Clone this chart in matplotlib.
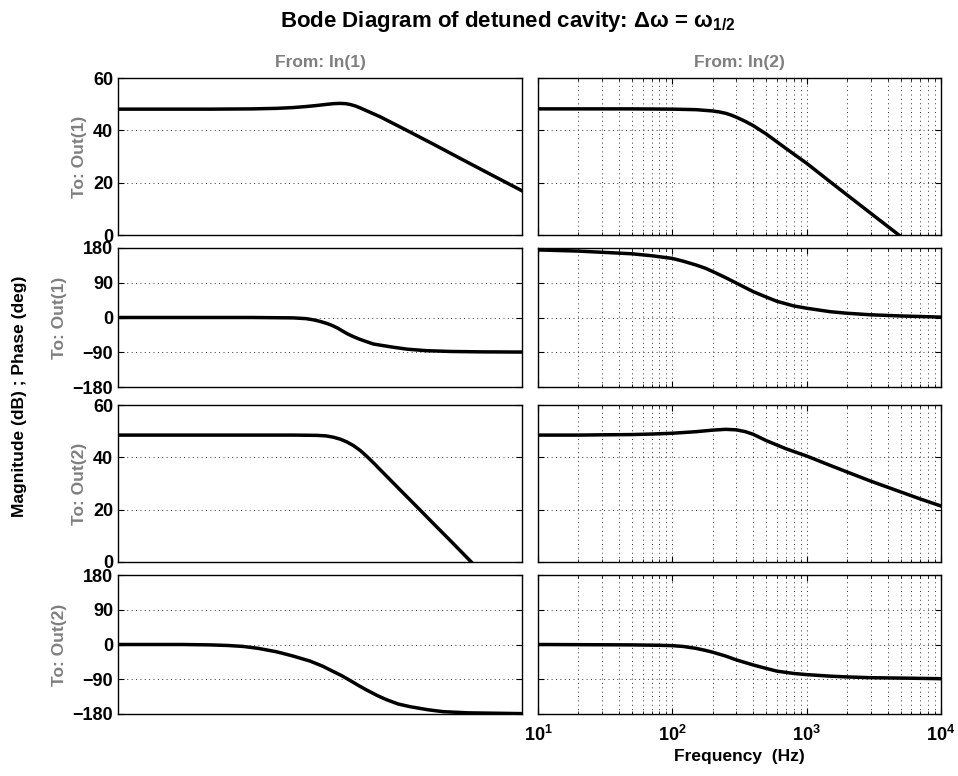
import numpy as np
import matplotlib
matplotlib.use('Agg')
import matplotlib.pyplot as plt
from matplotlib.ticker import LogLocator, NullFormatter

plt.rcParams['font.family'] = ['Liberation Sans', 'DejaVu Sans']
plt.rcParams['font.weight'] = 'bold'
plt.rcParams['mathtext.fontset'] = 'custom'
plt.rcParams['mathtext.rm'] = 'Liberation Sans:bold'
plt.rcParams['mathtext.it'] = 'Liberation Sans:bold'
plt.rcParams['mathtext.bf'] = 'Liberation Sans:bold'
plt.rcParams['axes.unicode_minus'] = True

# ---- data (frequency in Hz) ----
# column 1: From In(1)  (frequency axis not labelled in the reference)
f_mag11 = [10, 50, 100, 151, 200, 250, 300, 350, 400, 445, 490, 528, 580, 627, 700, 883, 1393, 2198, 3467, 5780, 10000]
mag11 = [48.1, 48.1, 48.2, 48.4, 48.7, 49.1, 49.5, 49.9, 50.2, 50.3, 50.2, 49.9, 49.3, 48.6, 47.5, 45.2, 40.0, 34.7, 29.3, 23.3, 16.9]

f_ph11 = [10, 100, 200, 250, 282, 300, 330, 360, 397, 430, 470, 510, 560, 620, 680, 787, 900, 1107, 1400, 1959, 3000, 5000, 10000]
ph11 = [0, 0, -1, -3, -6, -8, -12, -16, -22, -28, -36, -43, -49.6, -56, -61, -68.6, -72, -77, -82, -86, -88, -89, -89.5]

f_mag21 = [10, 100, 200, 298, 350, 397, 450, 500, 560, 630, 703, 800, 900, 1242, 1600, 2198, 3000, 4110, 6000]
mag21 = [48.5, 48.5, 48.5, 48.4, 48.2, 47.7, 46.9, 45.9, 44.5, 42.6, 40.4, 37.6, 34.9, 27.6, 21.9, 14.7, 7.7, 0.5, -8.0]

f_ph21 = [10, 30, 48, 65, 85, 110, 151, 200, 267, 330, 397, 460, 528, 610, 703, 840, 988, 1200, 1473, 2000, 2606, 4000, 10000]
ph21 = [0, 0, -1, -2.5, -5, -10, -19, -30, -43, -56, -70, -81, -93, -106, -118, -132, -143, -154, -161, -169, -174, -177, -179]

# column 2: From In(2)
f_mag12 = [10, 20, 50, 100, 150, 200, 225, 250, 275, 300, 350, 400, 500, 700, 1000, 1500, 2000, 3000, 5000, 7000, 10000]
mag12 = [48.2, 48.2, 48.2, 48.1, 47.9, 47.4, 47.0, 46.5, 45.8, 45.0, 43.4, 41.8, 38.6, 33.1, 27.4, 20.3, 15.3, 8.3, -0.5, -6.3, -12.5]

f_ph12 = [10, 20, 50, 70, 100, 120, 150, 175, 200, 250, 300, 400, 500, 600, 800, 1000, 1500, 2000, 3000, 5000, 10000]
ph12 = [175, 172, 165, 160, 153, 146, 136, 128, 119, 103, 89, 67, 53, 42, 30, 24, 15, 11, 7, 4, 1]

f_mag22 = [10, 20, 30, 50, 70, 100, 150, 200, 250, 300, 350, 400, 500, 700, 1000, 1500, 2000, 3000, 5000, 7000, 10000]
mag22 = [48.5, 48.5, 48.6, 48.7, 48.9, 49.2, 49.8, 50.4, 50.7, 50.5, 49.8, 48.8, 46.4, 43.3, 40.5, 36.9, 34.4, 30.9, 26.8, 24.1, 21.4]

f_ph22 = [10, 50, 80, 100, 120, 150, 175, 200, 250, 300, 400, 500, 600, 800, 1000, 1500, 2000, 3000, 5000, 10000]
ph22 = [0, -1, -2, -3, -5, -10, -15, -20, -30, -40, -53, -62, -69, -75, -78, -82, -84, -86, -87, -88.5]

mag_ticks = [0, 20, 40, 60]
phase_ticks = [-180, -90, 0, 90, 180]
freq_ticks = [10, 100, 1000, 10000]
freq_labels = [r'$10^{1}$', r'$10^{2}$', r'$10^{3}$', r'$10^{4}$']
row_labels = ['To: Out(1)', 'To: Out(1)', 'To: Out(2)', 'To: Out(2)']
col_labels = ['From: In(1)', 'From: In(2)']

W, H = 958, 776
fig = plt.figure(figsize=(W / 100, H / 100), dpi=100)

def px_axes(x0, y0, x1, y1):
    return fig.add_axes([x0 / W, 1 - y1 / H, (x1 - x0) / W, (y1 - y0) / H])

cols = [(118, 522), (538, 941)]
rows = [(78, 235), (248, 387), (405, 562), (575, 714)]

curves = [
    [(f_mag11, mag11), (f_mag12, mag12)],
    [(f_ph11, ph11), (f_ph12, ph12)],
    [(f_mag21, mag21), (f_mag22, mag22)],
    [(f_ph21, ph21), (f_ph22, ph22)],
]

gray = '#7f7f7f'
grid_kw = dict(linestyle=(0, (1, 3.5)), color='#333333', lw=0.7)
for r, (y0, y1) in enumerate(rows):
    is_mag = r % 2 == 0
    for c, (x0, x1) in enumerate(cols):
        ax = px_axes(x0, y0, x1, y1)
        fx, vals = curves[r][c]
        ax.semilogx(fx, vals, color='black', lw=2.5, solid_joinstyle='round')
        ax.set_xlim(10, 10000)
        if is_mag:
            ax.set_ylim(0, 60)
            ax.set_yticks(mag_ticks)
        else:
            ax.set_ylim(-180, 180)
            ax.set_yticks(phase_ticks)
        ax.tick_params(direction='in', which='both', top=True, right=True,
                       labelsize=13, length=4)
        ax.tick_params(which='minor', length=2)
        for s in ax.spines.values():
            s.set_linewidth(1.0)
        ax.yaxis.grid(True, **grid_kw)
        if c == 0:
            for lab in ax.get_yticklabels():
                lab.set_fontweight('bold')
            ax.set_ylabel(row_labels[r], color=gray, fontsize=12.5,
                          fontweight='bold', labelpad=4)
            ax.set_xticks([])
            ax.set_xticks([], minor=True)
        else:
            ax.set_yticklabels([])
            ax.set_xticks(freq_ticks)
            ax.xaxis.set_minor_locator(LogLocator(base=10, subs=np.arange(2, 10)))
            ax.xaxis.set_minor_formatter(NullFormatter())
            ax.xaxis.grid(True, which='both', **grid_kw)
            if r == 3:
                ax.set_xticklabels(freq_labels, fontsize=13)
                ax.tick_params(axis='x', pad=8)
                ax.set_xlabel('Frequency  (Hz)', fontsize=12.5, fontweight='bold', labelpad=3)
            else:
                ax.set_xticklabels([])
        if r == 0:
            ax.set_title(col_labels[c], color=gray, fontsize=12.5, fontweight='bold', pad=8)

fig.text(20 / W, 1 - 396 / H, 'Magnitude (dB) ; Phase (deg)', rotation=90,
         ha='center', va='center', fontsize=12.5, fontweight='bold')
fig.text(508 / W, 1 - 22 / H, r'Bode Diagram of detuned cavity: $\Delta\omega$ = $\omega_{1/2}$',
         ha='center', va='center', fontsize=16, fontweight='bold')

fig.savefig('out.png', dpi=100)
